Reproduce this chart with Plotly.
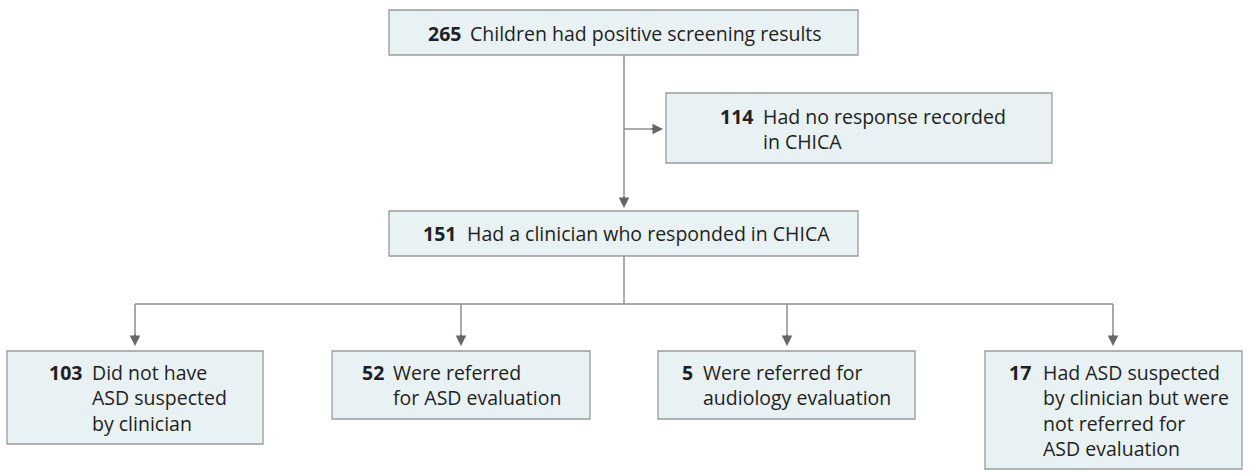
import plotly.graph_objects as go

# ---- data ----
counts = [265, 114, 151, 103, 52, 5, 17]
labels = [
    "Children had positive screening results",
    "Had no response recorded<br>in CHICA",
    "Had a clinician who responded in CHICA",
    "Did not have<br>ASD suspected<br>by clinician",
    "Were referred<br>for ASD evaluation",
    "Were referred for<br>audiology evaluation",
    "Had ASD suspected<br>by clinician but were<br>not referred for<br>ASD evaluation",
]

# ---- layout (pixels) ----
W, H = 1249, 476
boxes = [  # x0, y0, x1, y1
    (389, 10, 858, 55),
    (666, 93, 1052, 163),
    (389, 211, 858, 256),
    (7, 351, 263, 444),
    (332, 351, 590, 419),
    (658, 351, 915, 419),
    (985, 351, 1242, 469),
]
num_right = [463, 755, 458, 84, 386, 695, 1033]   # right edge of bold number
text_left = [468, 761, 465, 90, 391, 701, 1041]
first_line_y = [33, 117, 233, 373, 373, 373, 374]
LS = 24.5
FONT = "Open Sans"
FS = 19.5
FILL = "#e8f1f4"
BORDER = "#9b9b9b"
LINE = "#8f8f8f"
TXT = "#231f20"

fig = go.Figure()
fig.add_trace(go.Scatter(x=[0, W], y=[0, H], mode="markers", marker=dict(opacity=0), hoverinfo="skip", showlegend=False))

shapes = []
for (x0, y0, x1, y1) in boxes:
    shapes.append(dict(type="rect", x0=x0, y0=y0, x1=x1, y1=y1,
                       line=dict(color=BORDER, width=1.3), fillcolor=FILL, layer="below"))

annotations = []
for i, (n, lab) in enumerate(zip(counts, labels)):
    nlines = lab.count("<br>") + 1
    cy = first_line_y[i] + LS * (nlines - 1) / 2
    numtxt = f"<b>{n}</b>" + "<br>&#160;" * (nlines - 1)
    annotations.append(dict(x=num_right[i], y=cy, xref="x", yref="y", text=numtxt,
                            showarrow=False, xanchor="right", yanchor="middle", align="right",
                            font=dict(family=FONT, size=FS, color=TXT)))
    annotations.append(dict(x=text_left[i], y=cy, xref="x", yref="y", text=lab,
                            showarrow=False, xanchor="left", yanchor="middle", align="left",
                            font=dict(family=FONT, size=FS, color=TXT)))

# connectors
cx = 624
shapes.append(dict(type="line", x0=cx, y0=55, x1=cx, y1=204, line=dict(color=LINE, width=1.5)))
shapes.append(dict(type="line", x0=cx, y0=129, x1=656, y1=129, line=dict(color=LINE, width=1.5)))
shapes.append(dict(type="line", x0=cx, y0=256, x1=cx, y1=304, line=dict(color=LINE, width=1.5)))
drops = [135, 461, 787, 1113]
shapes.append(dict(type="line", x0=drops[0], y0=304, x1=drops[-1], y1=304, line=dict(color=LINE, width=1.5)))
for dx in drops:
    shapes.append(dict(type="line", x0=dx, y0=304, x1=dx, y1=338, line=dict(color=LINE, width=1.5)))

def arrow(x, y, ax, ay):
    annotations.append(dict(x=x, y=y, ax=ax, ay=ay, xref="x", yref="y", axref="x", ayref="y",
                            text="", showarrow=True, arrowhead=2, arrowsize=1.4, arrowwidth=1.5,
                            arrowcolor="#666666"))

arrow(cx, 208, cx, 195)
arrow(663, 129, 650, 129)
for dx in drops:
    arrow(dx, 346, dx, 333)

fig.update_layout(
    width=W, height=H, margin=dict(l=0, r=0, t=0, b=0),
    paper_bgcolor="white", plot_bgcolor="white",
    xaxis=dict(range=[0, W], visible=False, fixedrange=True),
    yaxis=dict(range=[H, 0], visible=False, fixedrange=True),
    shapes=shapes, annotations=annotations, showlegend=False,
)
fig.write_html("out.html", config={"displayModeBar": False},
               post_script="document.body.style.margin='0';document.body.style.overflow='hidden';")
